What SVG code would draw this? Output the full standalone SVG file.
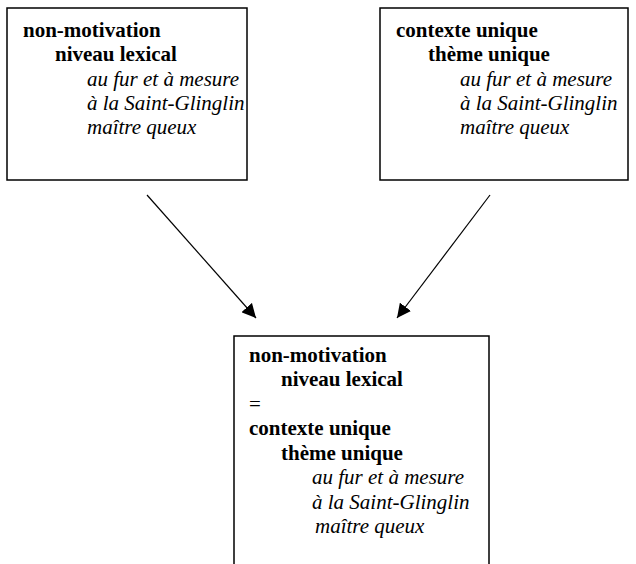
<svg xmlns="http://www.w3.org/2000/svg" width="636" height="564" viewBox="0 0 636 564">
<style>
.box{fill:#fff;stroke:#000;stroke-width:1.5}
.c{stroke:#000;stroke-width:1.2;fill:none;marker-end:url(#ah)}
</style>
<defs>
<marker id="ah" viewBox="0 0 10 10" refX="10" refY="5" markerWidth="14" markerHeight="14" markerUnits="userSpaceOnUse" orient="auto">
<path d="M0,0 L10,5 L0,10 z" fill="#000"/>
</marker>
</defs>
<rect width="636" height="564" fill="#fff"/>
<g id="node-left">
<rect class="box" x="7" y="8" width="240" height="172"/>
<text x="23" y="37" font-family="Liberation Serif" font-size="21" font-weight="bold">non-motivation</text>
<text x="55" y="61" font-family="Liberation Serif" font-size="21" font-weight="bold">niveau lexical</text>
<text x="87" y="86" font-family="Liberation Serif" font-size="21" font-style="italic">au fur et à mesure</text>
<text x="87" y="110" font-family="Liberation Serif" font-size="21" font-style="italic">à la Saint-Glinglin</text>
<text x="87" y="134" font-family="Liberation Serif" font-size="21" font-style="italic">maître queux</text>
</g>
<g id="node-right">
<rect class="box" x="380" y="8" width="248" height="172"/>
<text x="396" y="37" font-family="Liberation Serif" font-size="21" font-weight="bold">contexte unique</text>
<text x="428" y="61" font-family="Liberation Serif" font-size="21" font-weight="bold">thème unique</text>
<text x="460" y="86" font-family="Liberation Serif" font-size="21" font-style="italic">au fur et à mesure</text>
<text x="460" y="110" font-family="Liberation Serif" font-size="21" font-style="italic">à la Saint-Glinglin</text>
<text x="460" y="134" font-family="Liberation Serif" font-size="21" font-style="italic">maître queux</text>
</g>
<g id="node-bottom">
<path class="box" d="M234,570 L234,336 L489,336 L489,570"/>
<text x="249" y="362" font-family="Liberation Serif" font-size="21" font-weight="bold">non-motivation</text>
<text x="281" y="386" font-family="Liberation Serif" font-size="21" font-weight="bold">niveau lexical</text>
<text x="249" y="411" font-family="Liberation Serif" font-size="21">=</text>
<text x="249" y="435" font-family="Liberation Serif" font-size="21" font-weight="bold">contexte unique</text>
<text x="281" y="460" font-family="Liberation Serif" font-size="21" font-weight="bold">thème unique</text>
<text x="312" y="484" font-family="Liberation Serif" font-size="21" font-style="italic">au fur et à mesure</text>
<text x="312" y="509" font-family="Liberation Serif" font-size="21" font-style="italic">à la Saint-Glinglin</text>
<text x="315" y="533" font-family="Liberation Serif" font-size="21" font-style="italic">maître queux</text>
</g>
<g id="connectors">
<line class="c" x1="147" y1="195" x2="256" y2="318"/>
<line class="c" x1="490" y1="195" x2="397" y2="318"/>
</g>
</svg>
